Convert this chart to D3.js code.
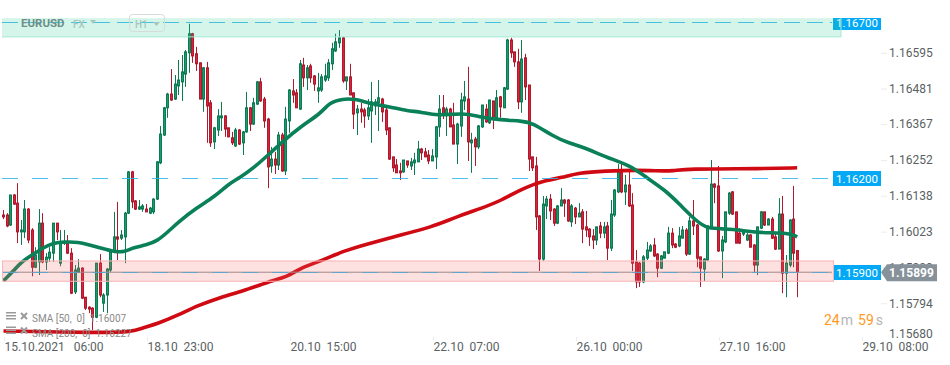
<!DOCTYPE html>
<html>
<head>
<meta charset="utf-8">
<script src="https://cdn.jsdelivr.net/npm/d3@7"></script>
<style>
  html, body {margin: 0; padding: 0; background: #fff;}
  svg {display: block; font-family: Roboto, sans-serif;}
  .axis path {display: none;}
  .axis text {fill: #5a5f63; font-size: 12px; font-family: Roboto, sans-serif; white-space: pre;}
  .axis line {stroke: #ececec;}
</style>
</head>
<body>
<div id="chart"></div>
<script>
// all prices in points (1.16700 = 116700)
var opens = [
  116082,116082,116050,116146,116120,116028,116028,116101,116034,115915,
  115932,116056,115932,115944,115960,116056,115928,115992,115992,115960,
  115836,115899,115912,115819,115787,115784,115755,115928,115800,115826,
  115906,115963,116012,116008,116012,116088,116220,116127,116101,116101,
  116101,116088,116092,116133,116249,116338,116425,116469,116453,116495,
  116508,116533,116601,116662,116598,116569,116453,116553,116441,116316,
  116354,116393,116399,116361,116329,116303,116354,116313,116348,116425,
  116373,116437,116508,116453,116389,116239,116261,116242,116338,116223,
  116383,116479,116473,116421,116562,116521,116559,116527,116479,116482,
  116514,116521,116566,116607,116633,116649,116511,116524,116473,116409,
  116421,116418,116399,116415,116431,116441,116453,116418,116361,116268,
  116242,116223,116220,116255,116239,116249,116252,116293,116284,116274,
  116255,116268,116364,116425,116405,116421,116370,116309,116367,116447,
  116453,116313,116325,116300,116364,116421,116377,116447,116393,116460,
  116425,116485,116642,116604,116572,116444,116585,116498,116268,116239,
  116079,115941,116111,116133,116101,116056,116111,116130,116130,116060,
  116104,116076,116092,116044,116037,116015,116002,116047,116024,116047,
  115976,116082,116156,116226,116156,116178,116114,115932,115928,115868,
  115944,115967,115986,115957,115912,115944,115960,116024,115989,115983,
  116008,116034,115957,116063,116050,115948,115909,115938,116044,116181,
  116175,115967,115996,116088,116156,116092,116024,116021,116002,116018,
  115986,115922,116040,116092,116050,116069,116012,115973,116085,115896,
  115922,116069,115968];
var closes = [
  116076,116047,116146,116117,116028,116034,116101,116002,115915,115954,
  116056,115932,115947,115963,116056,116028,115995,115995,115960,115832,
  115906,115912,115816,115784,115781,115755,115928,115826,115826,115909,
  115963,116012,116005,116018,116088,116220,116124,116101,116108,116111,
  116092,116104,116133,116252,116341,116425,116469,116450,116501,116514,
  116540,116604,116662,116591,116566,116453,116553,116431,116313,116361,
  116399,116399,116357,116332,116313,116354,116309,116348,116425,116373,
  116441,116508,116447,116383,116236,116261,116242,116338,116223,116389,
  116482,116466,116425,116566,116521,116553,116521,116501,116489,116524,
  116527,116569,116614,116636,116649,116511,116524,116466,116405,116421,
  116412,116399,116425,116444,116444,116457,116412,116354,116261,116233,
  116217,116217,116258,116242,116252,116258,116293,116281,116268,116255,
  116271,116364,116421,116405,116421,116364,116309,116373,116450,116460,
  116316,116322,116300,116367,116434,116380,116450,116396,116457,116428,
  116489,116642,116601,116572,116444,116581,116492,116261,116233,116076,
  115941,116117,116133,116095,116056,116111,116130,116120,116063,116111,
  116076,116088,116037,116034,116012,116002,116044,116024,116044,115976,
  116085,116162,116226,116156,116178,116111,115928,115868,115868,115948,
  115970,115983,115951,115912,115951,115964,116024,115986,115979,116015,
  116034,115957,116063,116047,115944,115912,115941,116047,116181,116171,
  115967,116002,116092,116152,116085,115992,115992,116028,116018,115979,
  115922,116044,116092,116050,116069,116008,115973,116085,115896,115928,
  116066,115960,115900];
var highs = [
  116098,116088,116146,116149,116184,116066,116130,116104,116040,115979,
  116101,116088,115960,115979,116056,116056,116034,116034,116018,115976,
  115922,115941,115915,115819,115790,115787,115928,115957,115832,115912,
  115970,116092,116124,116034,116092,116223,116223,116130,116130,116117,
  116117,116108,116136,116255,116367,116428,116473,116549,116530,116578,
  116594,116610,116694,116665,116620,116569,116556,116572,116450,116364,
  116421,116444,116402,116361,116348,116361,116357,116351,116476,116428,
  116457,116511,116521,116460,116393,116300,116284,116348,116345,116428,
  116485,116517,116485,116578,116585,116562,116566,116530,116537,116533,
  116566,116581,116633,116662,116674,116652,116524,116566,116473,116434,
  116441,116425,116453,116508,116453,116514,116457,116434,116361,116268,
  116261,116249,116258,116255,116265,116281,116319,116297,116297,116290,
  116293,116367,116466,116466,116428,116425,116441,116377,116473,116511,
  116556,116345,116332,116370,116434,116437,116450,116447,116482,116463,
  116492,116646,116649,116604,116614,116642,116598,116498,116268,116268,
  116082,116143,116143,116149,116104,116114,116168,116133,116133,116117,
  116108,116120,116101,116095,116040,116037,116044,116060,116060,116060,
  116130,116165,116245,116245,116210,116220,116152,115970,115932,115954,
  115996,115989,116008,115960,115954,115964,116044,116040,115992,116044,
  116047,116040,116076,116130,116053,115948,115944,116050,116258,116184,
  116239,116015,116092,116156,116159,116092,116040,116034,116024,116021,
  115989,116044,116095,116092,116072,116076,116028,116136,116143,115954,
  116069,116175,115970];
var lows = [
  116069,116043,116047,116114,115992,115986,116008,115992,115886,115912,
  115890,115928,115906,115932,115932,116002,115918,115986,115957,115829,
  115829,115896,115813,115778,115768,115714,115752,115819,115772,115768,
  115899,115960,115938,116002,115928,116085,116104,116098,116098,116092,
  116092,116085,116085,116130,116245,116335,116393,116447,116450,116466,
  116447,116492,116537,116569,116543,116453,116412,116313,116300,116293,
  116335,116351,116332,116332,116306,116300,116306,116274,116345,116351,
  116370,116434,116444,116361,116168,116217,116213,116226,116220,116210,
  116345,116441,116425,116418,116492,116482,116505,116479,116441,116476,
  116508,116511,116546,116604,116617,116505,116482,116466,116357,116338,
  116377,116361,116386,116313,116402,116351,116380,116338,116258,116220,
  116217,116194,116217,116233,116226,116210,116252,116258,116268,116245,
  116255,116229,116332,116389,116335,116364,116309,116245,116332,116418,
  116255,116217,116239,116293,116361,116377,116373,116357,116389,116393,
  116425,116482,116585,116556,116421,116409,116450,116223,116223,116034,
  115903,115935,116069,116066,116047,116053,116111,116076,116060,116044,
  116053,116076,115992,116012,115983,115973,115986,116008,116008,115938,
  115967,116076,116152,116152,116114,116108,115903,115848,115852,115864,
  115938,115964,115948,115883,115909,115944,115957,115976,115976,115979,
  116008,115951,115954,116018,115915,115852,115871,115935,116044,116120,
  115964,115880,115992,116082,116082,115992,115989,116015,115999,115979,
  115900,115890,116037,116047,116050,116005,115970,115973,115832,115819,
  115915,115915,115819];

// moving averages, read at a few bars (index into the candle arrays)
var sma50Bars = [0,3,5,8,11,14,17,21,24,27,31,34,36,40,43,46,49,54,59,63,66,70,74,78,83,89,91,95,98,103,108,113,117,121,129,133,139,145,148,154,158,162,169,175,180,185,189,194,197,202,206,211,220,222];
var sma50Values = [115871,115906,115932,115954,115977,115993,115996,115996,115986,115977,115964,115964,115977,115986,115999,116028,116060,116105,116140,116182,116201,116233,116274,116316,116364,116409,116441,116454,116454,116438,116428,116415,116412,116399,116409,116396,116386,116383,116377,116332,116313,116300,116265,116242,116201,116162,116118,116060,116038,116038,116034,116025,116025,116012];
var sma200Bars = [0,27,36,39,43,49,54,61,67,74,80,83,89,95,102,110,120,126,134,139,146,152,156,161,168,178,182,188,190,213,222];
var sma200Values = [115711,115705,115708,115721,115734,115762,115791,115820,115839,115868,115887,115913,115935,115967,115990,116015,116044,116073,116105,116127,116172,116194,116201,116217,116223,116226,116223,116223,116230,116230,116233];

var priceTicks = [116595,116481,116367,116252,116138,116023,115909,115794,115680];
var timeTicks = [0,40,80,120,160,200,240];
var timeLabels = ["15.10.2021   06:00","18.10  23:00","20.10  15:00","22.10  07:00","26.10  00:00","27.10  16:00","29.10  08:00"];

var levels = [116700,116200,115900];
var levelLabels = ["1.16700","1.16200","1.15900"];
var upperZone = [116712,116652];
var lowerZone = [115935,115870];
var lastPrice = 115899;

const W = 950, H = 365;
const upColor = "#1b9a6b", upEdge = "#0c7a52",
      downColor = "#de2038", downEdge = "#ad1a2d";

var bars = d3.range(opens.length).map(function(i) {
  return {i: i, o: opens[i], h: highs[i], l: lows[i], c: closes[i]};
});

var svg = d3.select("#chart").append("svg")
  .attr("width", W)
  .attr("height", H);

var x = d3.scaleLinear().domain([0, 240]).range([3, 861]);
var y = d3.scaleLinear().domain([116770, 115700]).range([0, 334.4]);
var fmt = function(p) {return (p / 100000).toFixed(5);};

// axes
var yAxis = d3.axisRight(y).tickValues(priceTicks).tickSize(6).tickPadding(2).tickFormat(fmt);
var yG = svg.append("g").attr("class", "axis")
  .attr("transform", "translate(881,-1.8)")
  .call(yAxis);
yG.selectAll(".tick").filter(function(d) {return d == 115680;})
  .attr("transform", "translate(0,335.8)")
  .select("line").remove();

var xAxis = d3.axisBottom(x).tickValues(timeTicks).tickSize(4).tickPadding(1)
  .tickFormat(function(d, i) {return timeLabels[i];});
var xG = svg.append("g").attr("class", "axis")
  .attr("transform", "translate(1,337)")
  .call(xAxis);
xG.selectAll("text").attr("text-anchor", "start").attr("x", 0);

// candles
var candle = svg.append("g").selectAll("g").data(bars).enter().append("g")
  .attr("transform", function(d) {return "translate(" + Math.round(x(d.i)) + ",0)";});

candle.append("rect")
  .attr("x", 0)
  .attr("width", 1)
  .attr("y", function(d) {return y(d.h);})
  .attr("height", function(d) {return y(d.l) - y(d.h);})
  .attr("fill", function(d) {return d.c >= d.o ? upEdge : downEdge;});

candle.append("rect")
  .attr("x", -0.5)
  .attr("width", 2)
  .attr("y", function(d) {return y(Math.max(d.o, d.c));})
  .attr("height", function(d) {return Math.max(1, Math.abs(y(d.o) - y(d.c)));})
  .attr("fill", function(d) {return d.c >= d.o ? upColor : downColor;})
  .attr("stroke", function(d) {return d.c >= d.o ? upEdge : downEdge;})
  .attr("stroke-width", 1);

// moving averages
var smaLine = d3.line()
  .x(function(d) {return x(d[0]) + 0.5;})
  .y(function(d) {return y(d[1]);})
  .curve(d3.curveBasis);

svg.append("path")
  .attr("d", smaLine(d3.zip(sma200Bars, sma200Values)))
  .attr("fill", "none")
  .attr("stroke", "#cf0a12")
  .attr("stroke-width", 3.6);
svg.append("path")
  .attr("d", smaLine(d3.zip(sma50Bars, sma50Values)))
  .attr("fill", "none")
  .attr("stroke", "#0a8058")
  .attr("stroke-width", 3.6);

// current price line and horizontal levels
svg.append("line")
  .attr("x1", 2).attr("x2", 832)
  .attr("y1", y(lastPrice)).attr("y2", y(lastPrice))
  .attr("stroke", "#8c9296")
  .attr("stroke-width", 1);

svg.selectAll(".level").data(levels).enter().append("line")
  .attr("class", "level")
  .attr("x1", 2).attr("x2", 832)
  .attr("y1", function(d) {return Math.round(y(d)) + 0.5;})
  .attr("y2", function(d) {return Math.round(y(d)) + 0.5;})
  .attr("stroke", "#2fb4ec")
  .attr("stroke-opacity", 0.85)
  .attr("stroke-width", 1)
  .attr("stroke-dasharray", function(d, i) {return i == 0 ? "16,7" : "16,14";});

// blue level tags
var tag = svg.selectAll(".tag").data(levels).enter().append("g")
  .attr("class", "tag")
  .attr("transform", function(d) {return "translate(833," + Math.round(y(d)) + ")";});
tag.append("rect")
  .attr("x", 0).attr("width", 48)
  .attr("y", function(d, i) {return i == 0 ? -4 : -7;})
  .attr("height", function(d, i) {return i == 0 ? 12 : 15;})
  .attr("fill", "#03a9f4");
tag.append("text")
  .attr("x", 24).attr("y", 0.5)
  .attr("dy", "0.35em")
  .attr("text-anchor", "middle")
  .attr("fill", "#fff")
  .style("font-size", "11.5px")
  .text(function(d, i) {return levelLabels[i];});

// zones sit on top of the candles
svg.append("rect")
  .attr("x", 2).attr("width", 839)
  .attr("y", y(upperZone[0])).attr("height", y(upperZone[1]) - y(upperZone[0]))
  .attr("fill", "#2ecc99").attr("fill-opacity", 0.2);
svg.append("line")
  .attr("x1", 2).attr("x2", 841)
  .attr("y1", y(upperZone[1])).attr("y2", y(upperZone[1]))
  .attr("stroke", "#a4e8d2").attr("stroke-width", 1);
svg.append("line")
  .attr("x1", 841).attr("x2", 841)
  .attr("y1", y(upperZone[0])).attr("y2", y(upperZone[1]))
  .attr("stroke", "#a4e8d2").attr("stroke-width", 1);

svg.append("rect")
  .attr("x", 2.5).attr("width", 831)
  .attr("y", y(lowerZone[0])).attr("height", y(lowerZone[1]) - y(lowerZone[0]))
  .attr("fill", "#f56565").attr("fill-opacity", 0.2)
  .attr("stroke", "#f7b5b5").attr("stroke-width", 1);

// last price marker
var py = y(lastPrice);
svg.append("path")
  .attr("d", d3.line()([[881, py], [887, py - 8], [937, py - 8], [937, py + 9], [887, py + 9]]) + "Z")
  .attr("fill", "#87919a");
svg.append("text")
  .attr("x", 889).attr("y", py + 0.5)
  .attr("dy", "0.35em")
  .attr("fill", "#fff")
  .style("font-size", "12px")
  .style("font-weight", 700)
  .text(fmt(lastPrice));

// countdown
var cd = svg.append("text")
  .attr("x", 824).attr("y", 325)
  .style("font-size", "14px");
cd.append("tspan").attr("fill", "#ff9a1f").text("24");
cd.append("tspan").attr("fill", "#b5b5b5").attr("dx", 1).text("m");
cd.append("tspan").attr("fill", "#ff9a1f").attr("dx", 5).text("59");
cd.append("tspan").attr("fill", "#b5b5b5").attr("dx", 2).text("s");

// instrument header
svg.append("text").attr("x", 21).attr("y", 27)
  .attr("fill", "#6f8f88").style("font-size", "11.5px").style("font-weight", 700).text("EURUSD");
svg.append("text").attr("x", 73).attr("y", 28)
  .attr("fill", "#a9c5bd").style("font-size", "10px").style("font-weight", 500).text("FX");
svg.append("path").attr("d", "M90,20L96,20L93,24Z").attr("fill", "#a9c5bd");
svg.append("rect")
  .attr("x", 129.5).attr("y", 14.5).attr("width", 35).attr("height", 17).attr("rx", 3)
  .attr("fill", "none").attr("stroke", "#d5dcda").attr("stroke-width", 1);
svg.append("text").attr("x", 135).attr("y", 28)
  .attr("fill", "#a9c5bd").style("font-size", "10px").style("font-weight", 500).text("H1");
svg.append("path").attr("d", "M153,22L160,22L156.5,26Z").attr("fill", "#a9c5bd");

// indicator legend
var legendRows = ["SMA [50,  0]  1.16007", "SMA [200,  0]  1.16227"];
var legend = svg.selectAll(".leg").data(legendRows).enter().append("g")
  .attr("class", "leg")
  .attr("transform", function(d, i) {return "translate(0," + (i * 14.5) + ")";});
legend.append("path")
  .attr("d", "M6,312h10v1.5h-10zM6,315h10v1.5h-10zM6,318h10v1.5h-10z")
  .attr("fill", "#9a9a9a");
legend.append("path")
  .attr("d", "M21,313L27,319M27,313L21,319")
  .attr("stroke", "#9a9a9a").attr("stroke-width", 2);
legend.append("text")
  .attr("x", 32).attr("y", 322)
  .attr("fill", "#8a8a8a")
  .style("font-size", "10px")
  .style("white-space", "pre")
  .text(function(d) {return d;});
</script>
</body>
</html>
